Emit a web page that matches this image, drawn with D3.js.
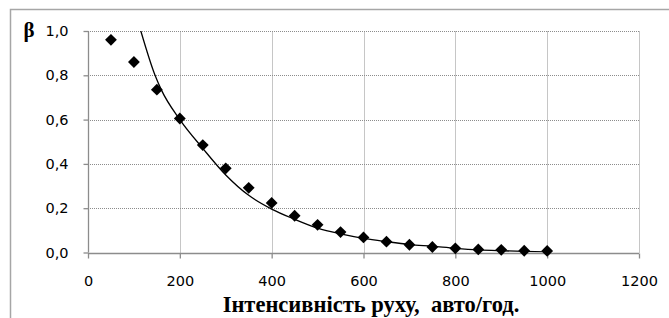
<!DOCTYPE html>
<html>
<head>
<meta charset="utf-8">
<script src="https://cdn.jsdelivr.net/npm/d3@7"></script>
<style>
  body { margin: 0; background: #fff; }
  svg { display: block; }
</style>
</head>
<body>
<div id="chart"></div>
<script>
// measured points (diamonds)
var intensity = [50, 100, 150, 200, 250, 300, 350, 400, 450, 500,
                 550, 600, 650, 700, 750, 800, 850, 900, 950, 1000];
var beta = [0.96, 0.86, 0.735, 0.605, 0.485, 0.38, 0.292, 0.224, 0.166, 0.125,
            0.092, 0.068, 0.049, 0.035, 0.025, 0.019, 0.014, 0.012, 0.008, 0.007];

// trend line
var trendX = [108, 115, 146, 160, 200, 250, 300, 350, 400, 450, 500,
              550, 600, 650, 700, 750, 800, 850, 900, 950, 1000];
var trendY = [1.05, 1.0, 0.8, 0.733, 0.6, 0.47, 0.35, 0.258, 0.196, 0.15, 0.11,
              0.084, 0.064, 0.049, 0.036, 0.028, 0.019, 0.012, 0.008, 0.005, 0.003];

var xTicks = [0, 200, 400, 600, 800, 1000, 1200];
var yTicks = [0, 0.2, 0.4, 0.6, 0.8, 1.0];

var W = 669, H = 318;

var svg = d3.select("#chart").append("svg")
    .attr("width", W)
    .attr("height", H);

// outer frame (cut off at right and bottom)
svg.append("rect")
    .attr("x", 10.5).attr("y", 9.5)
    .attr("width", W + 20).attr("height", H + 20)
    .attr("fill", "none")
    .attr("stroke", "#a6a6a6")
    .attr("stroke-width", 1.5);

var x = d3.scaleLinear().domain([0, 1200]).range([88, 639]);
var y = d3.scaleLinear().domain([0, 1]).range([252.5, 31]);

var g = svg.append("g");

// grid
g.selectAll("line.hgrid")
    .data(yTicks.slice(1))
  .enter().append("line")
    .attr("class", "hgrid")
    .attr("x1", x(0)).attr("x2", x(1200))
    .attr("y1", function(d) { return Math.round(y(d)) + 0.5; })
    .attr("y2", function(d) { return Math.round(y(d)) + 0.5; })
    .attr("stroke", "#8c8c8c")
    .attr("stroke-dasharray", "1,1");

g.selectAll("line.vgrid")
    .data(xTicks.slice(1))
  .enter().append("line")
    .attr("class", "vgrid")
    .attr("y1", y(0)).attr("y2", y(1))
    .attr("x1", function(d) { return Math.round(x(d)) + 0.5; })
    .attr("x2", function(d) { return Math.round(x(d)) + 0.5; })
    .attr("stroke", "#8c8c8c")
    .attr("stroke-dasharray", "1,1");

// axes
var xAxis = d3.axisBottom(x).tickValues(xTicks).tickSize(5).tickPadding(17)
    .tickFormat(d3.format("d"));
var yAxis = d3.axisLeft(y).tickValues(yTicks).tickSize(5).tickPadding(15)
    .tickFormat(function(d) { return d3.format(".1f")(d).replace(".", ","); });

var gx = svg.append("g")
    .attr("transform", "translate(0," + (Math.round(y(0)) + 0.5) + ")")
    .call(xAxis);
var gy = svg.append("g")
    .attr("transform", "translate(" + (Math.round(x(0)) + 0.5) + ",0)")
    .call(yAxis);

[gx, gy].forEach(function(a) {
  a.select(".domain").attr("stroke", "#8c8c8c").attr("stroke-width", 1.3);
  a.selectAll(".tick line").attr("stroke", "#8c8c8c").attr("stroke-width", 1.3);
  a.selectAll(".tick text")
    .attr("fill", "#000")
    .style("font-family", "'DejaVu Sans', Verdana, sans-serif")
    .style("font-size", "14.5px");
});
gx.select(".domain").attr("d", "M" + x(0) + ",0H" + x(1200));
gy.select(".domain").attr("d", "M0," + y(0) + "V" + y(1));

// trend line
svg.append("clipPath").attr("id", "plot")
  .append("rect")
    .attr("x", x(0)).attr("y", y(1))
    .attr("width", x(1200) - x(0)).attr("height", y(0) - y(1));

var line = d3.line()
    .x(function(d, i) { return x(trendX[i]); })
    .y(function(d) { return y(d); })
    .curve(d3.curveMonotoneX);

svg.append("path")
    .datum(trendY)
    .attr("clip-path", "url(#plot)")
    .attr("fill", "none")
    .attr("stroke", "#000")
    .attr("stroke-width", 1.3)
    .attr("d", line);

// diamonds
var diamond = d3.symbol().type(d3.symbolSquare).size(70);
svg.selectAll("path.pt")
    .data(beta)
  .enter().append("path")
    .attr("class", "pt")
    .attr("d", diamond)
    .attr("fill", "#000")
    .attr("transform", function(d, i) {
      return "translate(" + x(intensity[i]) + "," + y(d) + ") rotate(45)";
    });

// labels
svg.append("text")
    .attr("x", 29).attr("y", 37)
    .attr("text-anchor", "middle")
    .style("font-family", "'Liberation Serif', 'Times New Roman', serif")
    .style("font-weight", "bold")
    .style("font-size", "21px")
    .text("β");

svg.append("text")
    .attr("x", 371).attr("y", 312)
    .attr("text-anchor", "middle")
    .style("font-family", "'Liberation Serif', 'Times New Roman', serif")
    .style("font-weight", "bold")
    .style("font-size", "22.5px")
    .attr("xml:space", "preserve")
    .text("Інтенсивність руху,  авто/год.");
</script>
</body>
</html>
